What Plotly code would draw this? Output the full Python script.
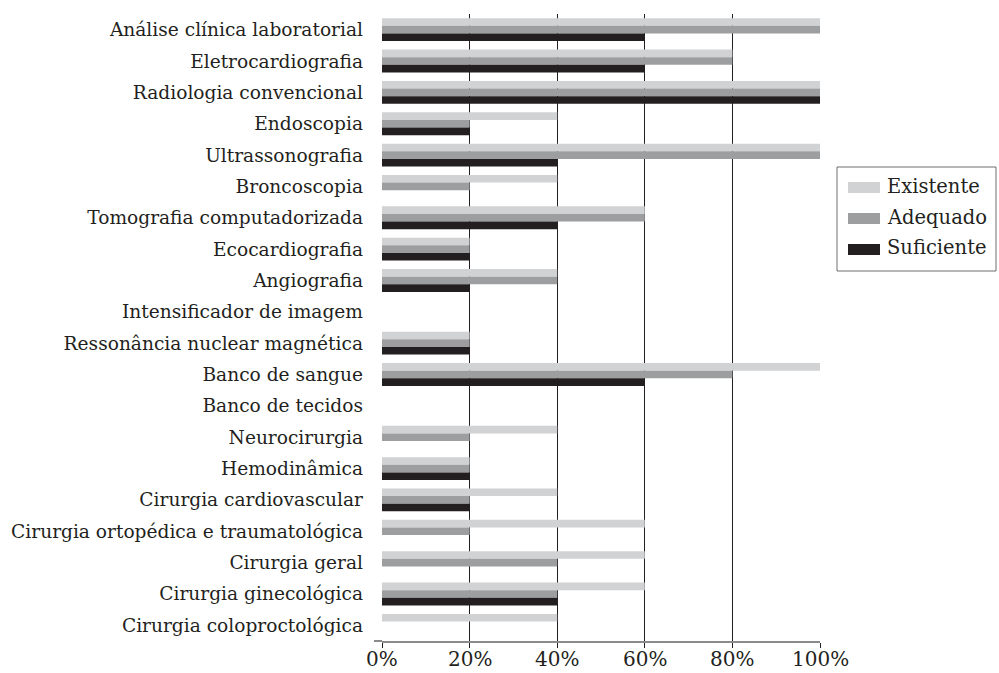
import plotly.graph_objects as go

categories = [
    "Análise clínica laboratorial",
    "Eletrocardiografia",
    "Radiologia convencional",
    "Endoscopia",
    "Ultrassonografia",
    "Broncoscopia",
    "Tomografia computadorizada",
    "Ecocardiografia",
    "Angiografia",
    "Intensificador de imagem",
    "Ressonância nuclear magnética",
    "Banco de sangue",
    "Banco de tecidos",
    "Neurocirurgia",
    "Hemodinâmica",
    "Cirurgia cardiovascular",
    "Cirurgia ortopédica e traumatológica",
    "Cirurgia geral",
    "Cirurgia ginecológica",
    "Cirurgia coloproctológica",
]

existente = [100, 80, 100, 40, 100, 40, 60, 20, 40, 0, 20, 100, 0, 40, 20, 40, 60, 60, 60, 40]
adequado = [100, 80, 100, 20, 100, 20, 60, 20, 40, 0, 20, 80, 0, 20, 20, 20, 20, 40, 40, 0]
suficiente = [60, 60, 100, 20, 40, 0, 40, 20, 20, 0, 20, 60, 0, 0, 20, 20, 0, 0, 40, 0]

series_names = ["Existente", "Adequado", "Suficiente"]
series_colors = ["#d1d2d4", "#9d9ea0", "#231f20"]
x_ticks = [0, 20, 40, 60, 80, 100]
x_tick_labels = ["0%", "20%", "40%", "60%", "80%", "100%"]

FONT = "DejaVu Serif"
FS = 18.6
W, H = 999, 673
ML, MR, MT, MB = 382, 179, 14, 32
plot_w = W - ML - MR
plot_h = H - MT - MB

fig = go.Figure()
for name, vals, col in zip(series_names, [existente, adequado, suficiente], series_colors):
    fig.add_trace(go.Bar(
        y=categories, x=vals, name=name, orientation="h",
        marker=dict(color=col, line=dict(width=0)),
        showlegend=False,
    ))

fig.update_layout(
    width=W, height=H,
    margin=dict(l=ML, r=MR, t=MT, b=MB, pad=0, autoexpand=False),
    paper_bgcolor="white", plot_bgcolor="white",
    barmode="group", bargap=0.27, bargroupgap=0,
    font=dict(family=FONT, size=FS, color="#231f20"),
    xaxis=dict(
        range=[0, 100], tickvals=x_ticks, showticklabels=False,
        showgrid=True, gridcolor="#231f20", gridwidth=1,
        zeroline=False, showline=True, linecolor="#8a8a8a", linewidth=2,
        ticks="outside", ticklen=5, tickcolor="#231f20",
        automargin=False, fixedrange=True,
    ),
    yaxis=dict(
        autorange="reversed", showgrid=False, zeroline=False,
        showline=False, ticks="", ticklabelstandoff=18, automargin=False,
        tickfont=dict(family=FONT, size=FS),
        fixedrange=True,
    ),
)

def px(x):
    return (x - ML) / plot_w
def py(y):
    return 1 - (y - MT) / plot_h

# percentage labels under the baseline
for v, lab in zip(x_ticks, x_tick_labels):
    fig.add_annotation(xref="x", yref="paper", x=v, y=py(659),
                       text=lab, showarrow=False, xanchor="center", yanchor="middle",
                       font=dict(family=FONT, size=20, color="#231f20"))

# left extension of the baseline
fig.add_shape(type="line", xref="paper", yref="paper",
              x0=px(374), x1=0, y0=0, y1=0,
              line=dict(color="#8a8a8a", width=2))

# legend drawn as a framed box with wide swatches
lx0, lx1, ly0, ly1 = 837, 996, 167, 271
fig.add_shape(type="rect", xref="paper", yref="paper",
              x0=px(lx0), x1=px(lx1), y0=py(ly1), y1=py(ly0),
              line=dict(color="#6d6e70", width=1), fillcolor="white")
for i, (name, col) in enumerate(zip(series_names, series_colors)):
    cy = 187 + 31 * i
    fig.add_shape(type="rect", xref="paper", yref="paper",
                  x0=px(848), x1=px(880), y0=py(cy + 6), y1=py(cy - 5),
                  line=dict(width=0), fillcolor=col)
    fig.add_annotation(xref="paper", yref="paper", x=px(885), y=py(cy - 1),
                       text=name, showarrow=False, xanchor="left", yanchor="middle",
                       font=dict(family=FONT, size=19.5, color="#231f20"))

fig.write_html("out.html")
